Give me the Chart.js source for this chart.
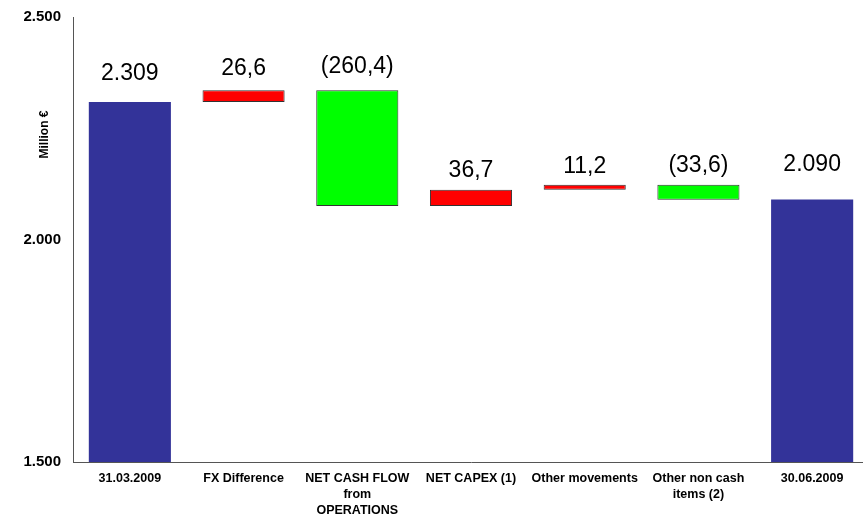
<!DOCTYPE html>
<html>
<head>
<meta charset="utf-8">
<script src="https://cdn.jsdelivr.net/npm/chart.js@4.4.1/dist/chart.umd.min.js"></script>
<style>
  html, body { margin: 0; padding: 0; background: #ffffff; overflow: hidden; }
  #wrap { width: 863px; height: 518px; overflow: hidden; }
</style>
</head>
<body>
<div id="wrap"><canvas id="c" width="869" height="518"></canvas></div>
<script>
// Net financial position bridge, million euro
const categories = [
  '31.03.2009',
  'FX Difference',
  ['NET CASH FLOW', 'from', 'OPERATIONS'],
  'NET CAPEX (1)',
  'Other movements',
  ['Other non cash', 'items (2)'],
  '30.06.2009'
];
const openingValue = 2309;
const movements = [26.6, -260.4, 36.7, 11.2, -33.6];
const closingValue = 2090;
const yTicks = [1500, 2000, 2500];

// Floating ranges: totals start at the axis floor, movements chain from the running total
const axisMin = 1500, axisMax = 2500;
const ranges = [[axisMin, openingValue]];
let running = openingValue;
movements.forEach(m => { ranges.push([running, running + m]); running += m; });
ranges.push([axisMin, closingValue]);

const kinds = ['total'].concat(movements.map(m => m >= 0 ? 'up' : 'down'), ['total']);
const fillFor = { total: '#333399', up: '#ff0000', down: '#00ff00' };

const fmtTotal = v => String(Math.round(v)).replace(/\B(?=(\d{3})+(?!\d))/g, '.');
const fmtMove = v => {
  const s = Math.abs(v).toFixed(1).replace('.', ',');
  return v < 0 ? '(' + s + ')' : s;
};
const labelTexts = [fmtTotal(openingValue)].concat(movements.map(fmtMove), [fmtTotal(closingValue)]);
// gap between a bar's top and the baseline of its label
const labelGap = [22, 15, 17, 13, 12, 13, 28];

const valueLabels = {
  id: 'valueLabels',
  afterDatasetsDraw(chart) {
    const ctx = chart.ctx;
    const meta = chart.getDatasetMeta(0);
    ctx.save();
    ctx.font = '23px "Liberation Sans", Arial, sans-serif';
    ctx.fillStyle = '#000';
    ctx.textAlign = 'center';
    ctx.textBaseline = 'alphabetic';
    meta.data.forEach((bar, i) => {
      const top = Math.min(bar.y, bar.base);
      ctx.fillText(labelTexts[i], bar.x, top - labelGap[i]);
    });
    ctx.restore();
  }
};

const axisTitle = {
  id: 'axisTitle',
  afterDraw(chart) {
    const ctx = chart.ctx;
    const y = chart.scales.y.getPixelForValue(2236);
    ctx.save();
    ctx.translate(45, y);
    ctx.rotate(-Math.PI / 2);
    ctx.font = 'bold 12px "Liberation Sans", Arial, sans-serif';
    ctx.fillStyle = '#000';
    ctx.textAlign = 'center';
    ctx.textBaseline = 'middle';
    ctx.fillText('Million €', 0, 0);
    ctx.restore();
  }
};

new Chart(document.getElementById('c'), {
  type: 'bar',
  data: {
    labels: categories,
    datasets: [{
      data: ranges,
      backgroundColor: kinds.map(k => fillFor[k]),
      borderColor: kinds.map(k => k === 'total' ? 'rgba(0,0,0,0)' : '#333333'),
      borderWidth: kinds.map(k => k === 'total' ? 0 : 1),
      borderSkipped: false,
      categoryPercentage: 1,
      barPercentage: 0.722
    }]
  },
  options: {
    responsive: false,
    animation: false,
    layout: { padding: { top: 17, left: 0, right: 0, bottom: 0 } },
    plugins: {
      legend: { display: false },
      tooltip: { enabled: false }
    },
    scales: {
      x: {
        grid: { display: false, drawTicks: false },
        border: { display: true, color: '#555555', width: 1 },
        ticks: {
          color: '#000',
          padding: 9,
          maxRotation: 0,
          autoSkip: false,
          font: { family: '"Liberation Sans", Arial, sans-serif', weight: 'bold', size: 12.5, lineHeight: '16px' }
        },
        afterFit(scale) { scale.height = 56; scale.paddingLeft = 0; scale.paddingRight = 0; }
      },
      y: {
        min: axisMin,
        max: axisMax,
        grid: { display: false, drawTicks: false },
        border: { display: true, color: '#555555', width: 1 },
        afterBuildTicks(scale) { scale.ticks = yTicks.map(v => ({ value: v })); },
        ticks: {
          color: '#000',
          padding: 12,
          font: { family: '"Liberation Sans", Arial, sans-serif', weight: 'bold', size: 15 },
          callback: v => fmtTotal(v)
        },
        afterFit(scale) { scale.width = 73; scale.paddingTop = 0; scale.paddingBottom = 0; }
      }
    }
  },
  plugins: [valueLabels, axisTitle]
});
</script>
</body>
</html>
